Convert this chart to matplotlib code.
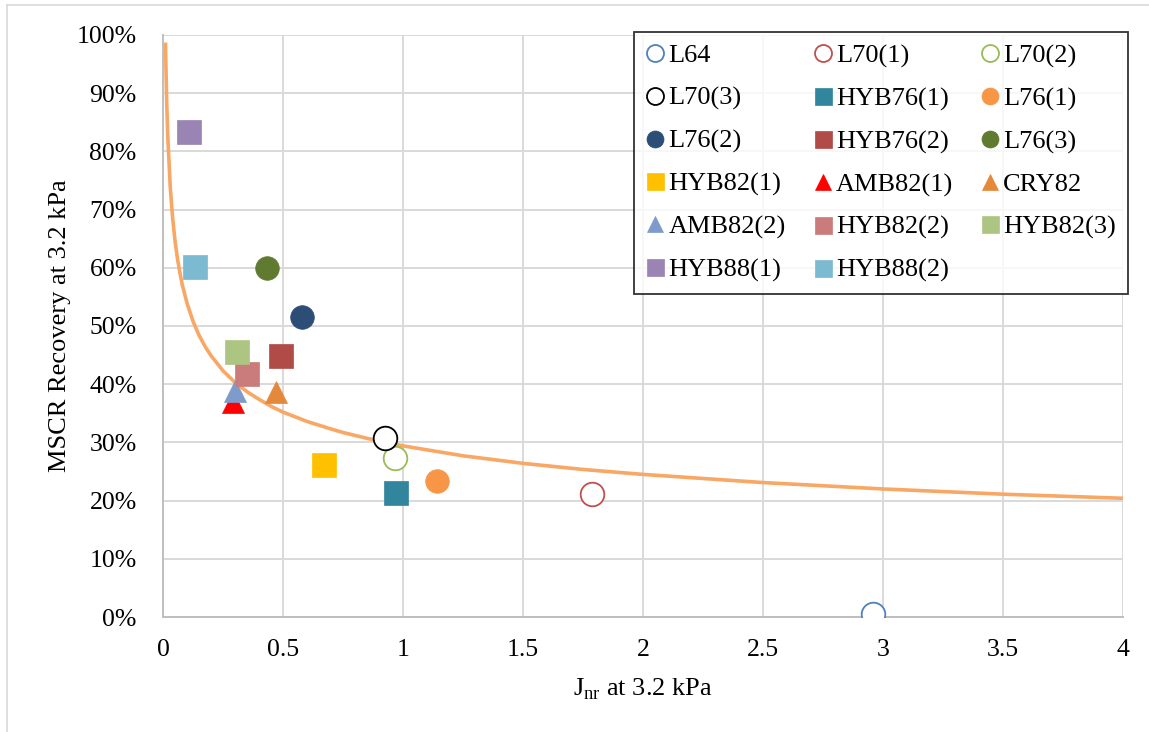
import matplotlib.pyplot as plt
from matplotlib.lines import Line2D
from matplotlib.ticker import FuncFormatter, MultipleLocator

plt.rcParams['font.family'] = ['Liberation Serif', 'DejaVu Serif']

# binder results: non-recoverable compliance and percent recovery at 3.2 kPa
names = ['L64', 'L70(1)', 'L70(2)', 'L70(3)', 'HYB76(1)', 'L76(1)',
         'L76(2)', 'HYB76(2)', 'L76(3)', 'HYB82(1)', 'AMB82(1)', 'CRY82',
         'AMB82(2)', 'HYB82(2)', 'HYB82(3)', 'HYB88(1)', 'HYB88(2)']
jnr = [2.958, 1.788, 0.967, 0.925, 0.971, 1.142,
       0.579, 0.492, 0.433, 0.671, 0.292, 0.471,
       0.300, 0.350, 0.308, 0.108, 0.133]
recovery = [0.5, 21.1, 27.4, 30.8, 21.3, 23.3,
            51.5, 44.8, 60.0, 26.1, 36.9, 38.6,
            38.8, 41.8, 45.5, 83.4, 60.1]
markers = ['o', 'o', 'o', 'o', 's', 'o',
           'o', 's', 'o', 's', '^', '^',
           '^', 's', 's', 's', 's']
colors = ['#4F81BD', '#C0504D', '#9BBB59', '#000000', '#31859C', '#F79646',
          '#2C4D75', '#B14B48', '#607A2F', '#FFC000', '#FF0000', '#E4883A',
          '#7E9BCB', '#C97C7B', '#ADC583', '#9A84B4', '#7BBAD0']
hollow = ['L64', 'L70(1)', 'L70(2)', 'L70(3)']

# reference recovery curve
curve_jnr = [0.01, 0.015, 0.02, 0.03, 0.04, 0.05, 0.06, 0.07, 0.08, 0.1,
             0.125, 0.15, 0.175, 0.2, 0.25, 0.3, 0.35, 0.4, 0.45, 0.5,
             0.6, 0.7, 0.75, 0.85, 1.0, 1.25, 1.5, 1.75, 2.0, 2.5, 3.0,
             3.5, 4.0]
curve_rec = [98.7, 88.8, 82.3, 73.9, 68.5, 64.6, 61.6, 59.2, 57.1, 53.9,
             50.8, 48.4, 46.5, 44.9, 42.3, 40.3, 38.7, 37.4, 36.2, 35.2,
             33.6, 32.3, 31.7, 30.7, 29.4, 27.7, 26.4, 25.35, 24.5, 23.1, 22.0,
             21.1, 20.4]

fig = plt.figure(figsize=(11.49, 7.32), dpi=100)
ax = fig.add_axes([0.1419, 0.1571, 0.9774 - 0.1419, 0.9522 - 0.1571])

ax.plot(curve_jnr, curve_rec, color='#F8A765', lw=2.6, zorder=2,
        solid_capstyle='butt', solid_joinstyle='round')

handles = []
for n, x, y, m, c in zip(names, jnr, recovery, markers, colors):
    ms = 17 if m != '^' else 16
    if n in hollow:
        h, = ax.plot(x, y, ls='none', marker=m, ms=ms, mfc='white',
                     mec=c, mew=1.3, label=n, zorder=3)
    else:
        h, = ax.plot(x, y, ls='none', marker=m, ms=ms, mfc=c,
                     mec=c, mew=0.5, label=n, zorder=3)
    handles.append(h)

ax.set_xlim(0, 4)
ax.set_ylim(0, 100)
ax.xaxis.set_major_locator(MultipleLocator(0.5))
ax.yaxis.set_major_locator(MultipleLocator(10))
ax.xaxis.set_major_formatter(FuncFormatter(lambda v, p: '%g' % v))
ax.yaxis.set_major_formatter(FuncFormatter(lambda v, p: '%d%%' % round(v)))
ax.tick_params(length=0, labelsize=18.5, colors='black')
ax.tick_params(axis='y', pad=19)
ax.tick_params(axis='x', pad=16)
ax.grid(True, color='#D9D9D9', lw=1.4, zorder=0)
ax.set_axisbelow(True)
for s in ['top', 'right']:
    ax.spines[s].set_visible(False)
for s in ['left', 'bottom']:
    ax.spines[s].set_color('#BFBFBF')
    ax.spines[s].set_linewidth(1.4)

ax.set_xlabel('J$_{\\mathregular{nr}}$ at 3.2 kPa', fontsize=19, labelpad=11)
ax.set_ylabel('MSCR Recovery at 3.2 kPa', fontsize=19, labelpad=4)

# legend filled row by row, three entries per row
order = [i for c in range(3) for i in range(c, len(names), 3)]
leg = ax.legend([handles[i] for i in order], [names[i] for i in order],
                ncol=3, loc='upper right', bbox_to_anchor=(1.005, 1.005),
                fontsize=19, frameon=True, fancybox=False, markerscale=0.72,
                handlelength=0.7, handletextpad=0.15, columnspacing=1.05,
                labelspacing=0.72, borderpad=0.45, borderaxespad=0)
leg.get_frame().set_edgecolor('black')
leg.get_frame().set_linewidth(1.3)
leg.set_zorder(5)

# chart area border
fig.add_artist(Line2D([7 / 1149, 7 / 1149], [0, 1 - 5 / 732],
                      color='#D9D9D9', lw=1.2))
fig.add_artist(Line2D([7 / 1149, 1], [1 - 5 / 732, 1 - 5 / 732],
                      color='#D9D9D9', lw=1.2))

fig.savefig('out.png', dpi=100)
